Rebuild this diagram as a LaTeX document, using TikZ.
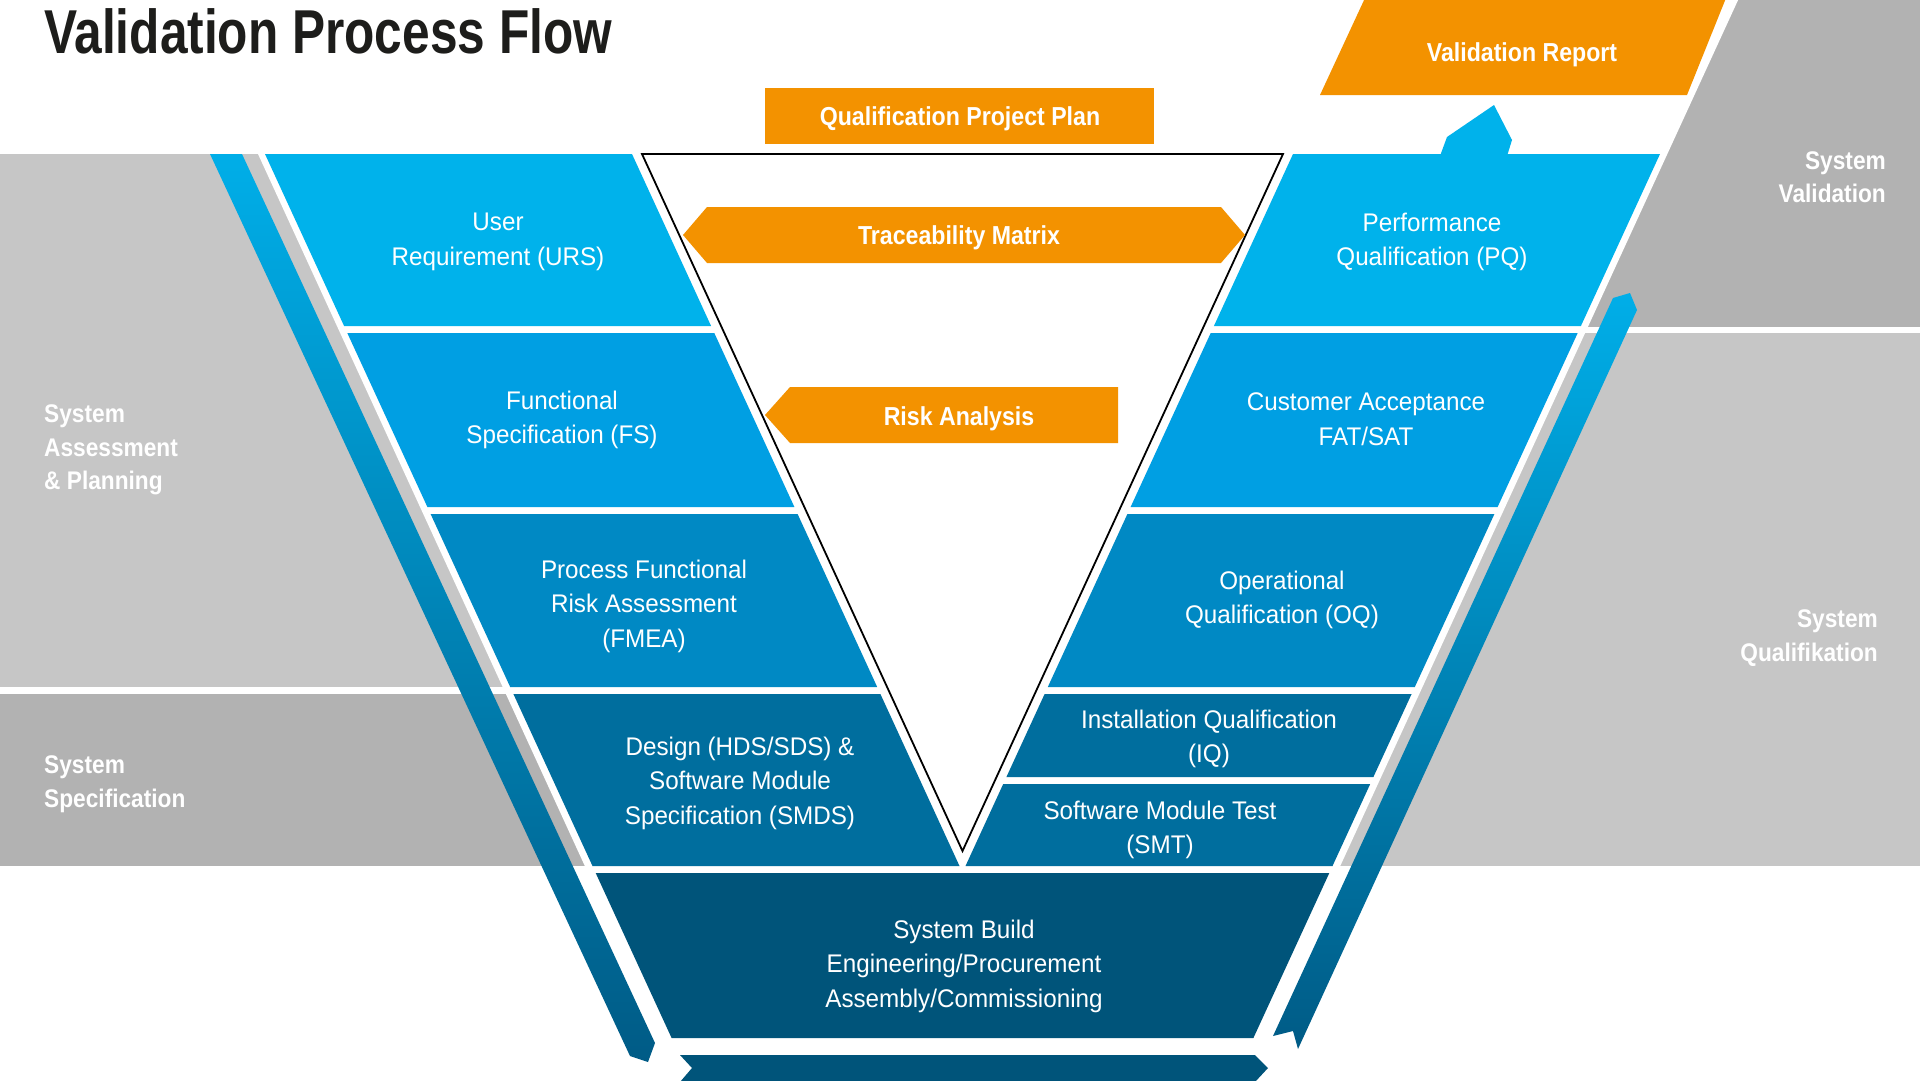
\documentclass[tikz,border=0pt]{standalone}
\usepackage{fontspec}
\setmainfont{Liberation Sans}
\newfontfamily\titlefam[FakeStretch=0.80]{Liberation Sans}
\newfontfamily\boldfam[FakeStretch=0.89]{Liberation Sans}
\newfontfamily\regfam[FakeStretch=0.95]{Liberation Sans}
\definecolor{cA}{HTML}{00B2EB}
\definecolor{cB}{HTML}{009FE3}
\definecolor{cC}{HTML}{0089C4}
\definecolor{cD}{HTML}{006E9E}
\definecolor{cE}{HTML}{00547A}
\definecolor{orng}{HTML}{F39200}
\definecolor{grayL}{HTML}{C6C6C6}
\definecolor{grayD}{HTML}{B2B2B2}
\definecolor{stripTop}{HTML}{00AEE8}
\definecolor{stripBot}{HTML}{005B86}
\definecolor{titlecol}{HTML}{1D1D1B}
\tikzset{
  blocktext/.style={text=white, align=center, inner sep=0pt, font=\regfam\fontsize{25.5}{34.5}\selectfont},
  graytext/.style={text=white, inner sep=0pt, font=\boldfam\bfseries\fontsize{25.5}{33.5}\selectfont},
  orangetext/.style={text=white, inner sep=0pt, font=\boldfam\bfseries\fontsize{26}{30}\selectfont},
}
\begin{document}
\begin{tikzpicture}[x=1pt,y=-1pt]
\useasboundingbox (0,0) rectangle (1920,1080);
\clip (0,0) rectangle (1920,1080);
\fill[white] (0,0) rectangle (1920,1080);
% gray bands
\fill[grayL] (0,154) rectangle (960,687);
\fill[grayD] (0,694) rectangle (960,866);
\fill[grayD] (960,-2) rectangle (1922,327);
\fill[grayL] (960,333) rectangle (1922,866);
% white V region
\fill[white] (258,-2) -- (258,154) -- (684,1082) -- (1241,1082) -- (1739,-2) -- cycle;
% flow strips
\shade[top color=stripTop, bottom color=stripBot] (210,154) -- (242,154) -- (655,1043) -- (648,1062) -- (630,1056) -- cycle;
\shade[top color=stripTop, bottom color=stripBot] (1613,298) -- (1630,293) -- (1637,310) -- (1298,1049) -- (1293,1031) -- (1273,1036) -- cycle;
% left arm blocks
\fill[cA] (265,154) -- (632,154) -- (711.1,326) -- (344.1,326) -- cycle;
\fill[cB] (347.3,333) -- (714.3,333) -- (794.4,507) -- (427.4,507) -- cycle;
\fill[cC] (430.6,514) -- (797.6,514) -- (877.2,687) -- (510.2,687) -- cycle;
\fill[cD] (513.4,694) -- (880.4,694) -- (959.5,866) -- (592.5,866) -- cycle;
% bottom block
\fill[cE] (595.7,873) -- (1329.3,873) -- (1253.4,1038) -- (671.6,1038) -- cycle;
% right arm blocks
\fill[cA] (1293,154) -- (1660,154) -- (1580.9,326) -- (1213.9,326) -- cycle;
\fill[cB] (1210.7,333) -- (1577.7,333) -- (1497.6,507) -- (1130.6,507) -- cycle;
\fill[cC] (1127.4,514) -- (1494.4,514) -- (1414.8,687) -- (1047.8,687) -- cycle;
\fill[cD] (1044.6,694) -- (1411.6,694) -- (1373.4,777) -- (1006.4,777) -- cycle;
\fill[cD] (1003.2,784) -- (1370.2,784) -- (1332.5,866) -- (965.5,866) -- cycle;
% bottom arrow
\fill[cE] (680,1055) -- (1255,1055) -- (1268,1068) -- (1255,1082) -- (680,1082) -- (692,1068) -- cycle;
% small arrow to report
\fill[cA] (1440,156) -- (1447,137) -- (1494,105) -- (1512,140) -- (1507,156) -- cycle;
% triangle
\draw[black, line width=1.8pt, line join=miter] (642,154) -- (1283,154) -- (962.5,851) -- cycle;
% orange shapes
\fill[orng] (765,88) rectangle (1154,144);
\fill[orng] (683,235) -- (707,207) -- (1221,207) -- (1245,235) -- (1221,263) -- (707,263) -- cycle;
\fill[orng] (765,415) -- (790,387) -- (1118,387) -- (1118,443) -- (790,443) -- cycle;
\fill[orng] (1365,-2) -- (1726,-2) -- (1687,95) -- (1320,95) -- cycle;
% title
\node[anchor=base west, inner sep=0pt, text=titlecol, font=\titlefam\bfseries\fontsize{62}{62}\selectfont] (title) at (44,53) {Validation Process Flow};
% orange labels
\node[orangetext] (qpp) at (960,119) {Qualification Project Plan};
\node[orangetext] (tm) at (959,238) {Traceability Matrix};
\node[orangetext] (ra) at (959,419) {Risk Analysis};
\node[orangetext] (vr) at (1522,55) {Validation Report};
% gray labels
\node[graytext, align=left, anchor=west] (sap) at (44,450) {System\\Assessment\\\& Planning};
\node[graytext, align=left, anchor=west] (ssp) at (44,784) {System\\Specification};
\node[graytext, align=right, anchor=east] (sva) at (1886,177) {System\\Validation};
\node[graytext, align=right, anchor=east] (squ) at (1878,638) {System\\Qualifikation};
% block labels
\node[blocktext] (urs) at (498,242) {User\\Requirement (URS)};
\node[blocktext] (fs) at (562,420) {Functional\\Specification (FS)};
\node[blocktext] (pfra) at (644,606) {Process Functional\\Risk Assessment\\(FMEA)};
\node[blocktext] (des) at (740,783) {Design (HDS/SDS) \&\\Software Module\\Specification (SMDS)};
\node[blocktext] (sb) at (964,966) {System Build\\Engineering/Procurement\\Assembly/Commissioning};
\node[blocktext] (pq) at (1432,242) {Performance\\Qualification (PQ)};
\node[blocktext] (ca) at (1366,419) {Customer Acceptance\\FAT/SAT};
\node[blocktext] (oq) at (1282,600) {Operational\\Qualification (OQ)};
\node[blocktext] (iq) at (1209,739) {Installation Qualification\\(IQ)};
\node[blocktext] (smt) at (1160,830) {Software Module Test\\(SMT)};
\end{tikzpicture}
\end{document}
